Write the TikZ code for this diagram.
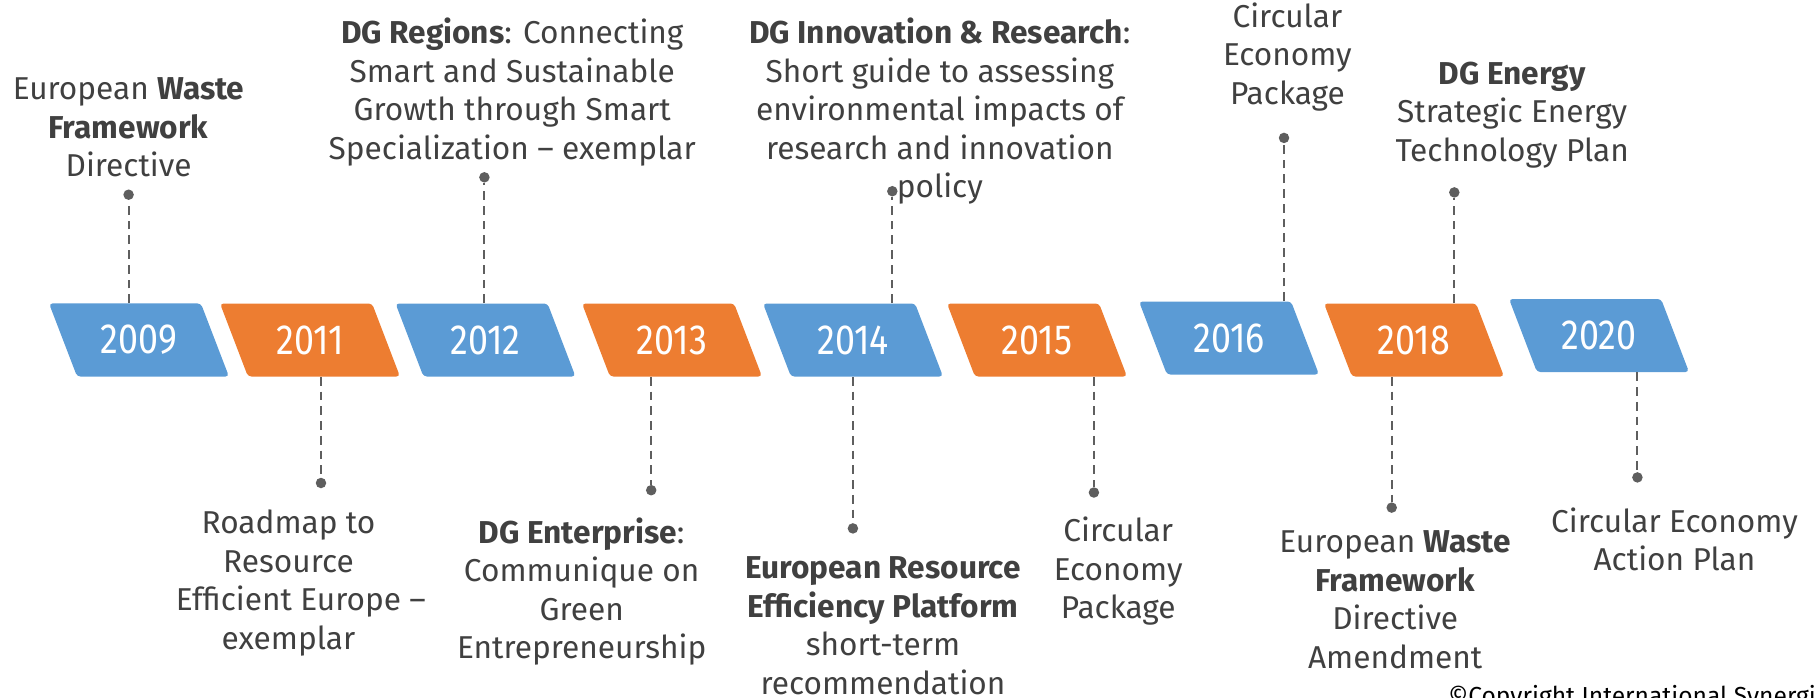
\documentclass[tikz,border=0pt]{standalone}
\usepackage{fontspec}
\setmainfont{Fira Sans}
\newfontfamily\yearfont[FakeStretch=0.85]{Fira Sans}
\usetikzlibrary{shapes.geometric}

\definecolor{boxblue}{HTML}{5B9BD5}
\definecolor{boxorange}{HTML}{ED7D31}
\definecolor{linegray}{HTML}{5E5E5E}
\definecolor{textgray}{HTML}{404040}

\tikzset{
    yearbox/.style = {shape = trapezium, trapezium left angle = 111, trapezium right angle = 69,
        trapezium stretches body, minimum width = 3.6cm, minimum height = 1.46cm,
        inner xsep = 0pt, inner ysep = 12.4pt,
        rounded corners = 2pt, fill = #1, text = white, font = \yearfont\fontsize{24}{28}\selectfont},
    enddot/.style = {shape = circle, fill = linegray, inner sep = 0pt, minimum size = 0.21cm},
    leader/.style = {draw = linegray, line width = 1.1pt, dash pattern = on 5pt off 3.4pt},
    note/.style = {align = center, text = textgray, font = \fontsize{18}{21.9}\selectfont}
}

\begin{document}
\begin{tikzpicture}[x = 0.02cm, y = -0.02cm]
    \useasboundingbox (0,0) rectangle (1817,697);

    % the years
    \node[yearbox = boxblue] (Y2009) at (139,340) {2009};
    \node[yearbox = boxorange] (Y2011) at (310,340) {2011};
    \node[yearbox = boxblue] (Y2012) at (485.5,340) {2012};
    \node[yearbox = boxorange] (Y2013) at (672,340) {2013};
    \node[yearbox = boxblue] (Y2014) at (853,340) {2014};
    \node[yearbox = boxorange] (Y2015) at (1037,340) {2015};
    \node[yearbox = boxblue] (Y2016) at (1229,338) {2016};
    \node[yearbox = boxorange] (Y2018) at (1414,340) {2018};
    \node[yearbox = boxblue] (Y2020) at (1599,335.5) {2020};

    % dots above
    \node[enddot] (D2009) at (128.6,194.7) {};
    \node[enddot] (D2012) at (484.4,177.3) {};
    \node[enddot] (D2014a) at (892.3,191.2) {};
    \node[enddot] (D2016) at (1284,137.9) {};
    \node[enddot] (D2018a) at (1454.3,192.4) {};
    % dots below
    \node[enddot] (D2011) at (321,483) {};
    \node[enddot] (D2013) at (651.2,490.2) {};
    \node[enddot] (D2014b) at (852.9,528.4) {};
    \node[enddot] (D2015) at (1093.9,492.5) {};
    \node[enddot] (D2018b) at (1391.7,507.6) {};
    \node[enddot] (D2020) at (1637.4,477.4) {};

    \draw[leader] (D2009 |- Y2009.north) -- (D2009);
    \draw[leader] (D2012 |- Y2012.north) -- (D2012);
    \draw[leader] (D2014a |- Y2014.north) -- (D2014a);
    \draw[leader] (D2016 |- Y2016.north) -- (D2016);
    \draw[leader] (D2018a |- Y2018.north) -- (D2018a);
    \draw[leader] (D2011 |- Y2011.south) -- (D2011);
    \draw[leader] (D2013 |- Y2013.south) -- (D2013);
    \draw[leader] (D2014b |- Y2014.south) -- (D2014b);
    \draw[leader] (D2015 |- Y2015.south) -- (D2015);
    \draw[leader] (D2018b |- Y2018.south) -- (D2018b);
    \draw[leader] (D2020 |- Y2020.south) -- (D2020);

    % texts above
    \node[note] (T2009) at (128.6,127.5) {European \textbf{Waste}\\\textbf{Framework}\\Directive};
    \node[note] (T2012) at (512.2,92.1) {\textbf{DG Regions}: Connecting\\Smart and Sustainable\\Growth through Smart\\Specialization -- exemplar};
    \node[note] (T2014a) at (939.8,111.2) {\textbf{DG Innovation \& Research}:\\Short guide to assessing\\environmental impacts of\\research and innovation\\policy};
    \node[note] (T2016) at (1287.4,56.8) {Circular\\Economy\\Package};
    \node[note] (T2018a) at (1512.2,114.7) {\textbf{DG Energy}\\Strategic Energy\\Technology Plan};
    % texts below
    \node[note] (T2011) at (288.5,582.9) {Roadmap to\\Resource\\\hspace*{14pt}Efficient Europe --\\exemplar};
    \node[note] (T2013) at (581.7,591.6) {\textbf{DG Enterprise}:\\Communique on\\Green\\Entrepreneurship};
    \node[note] (T2014b) at (883,625.8) {\textbf{European Resource}\\\textbf{Efficiency Platform}\\short-term\\recommendation};
    \node[note] (T2015) at (1118.2,571.3) {Circular\\Economy\\Package};
    \node[note] (T2018b) at (1395.2,599.7) {European \textbf{Waste}\\\textbf{Framework}\\Directive\\Amendment};
    \node[note] (T2020) at (1674.5,539.4) {Circular Economy\\Action Plan};

    \node[anchor = base west, text = black, inner sep = 0pt, font = \fontsize{14}{16}\selectfont] (Copy) at (1448,704) {©Copyright International Synergies};
\end{tikzpicture}
\end{document}
